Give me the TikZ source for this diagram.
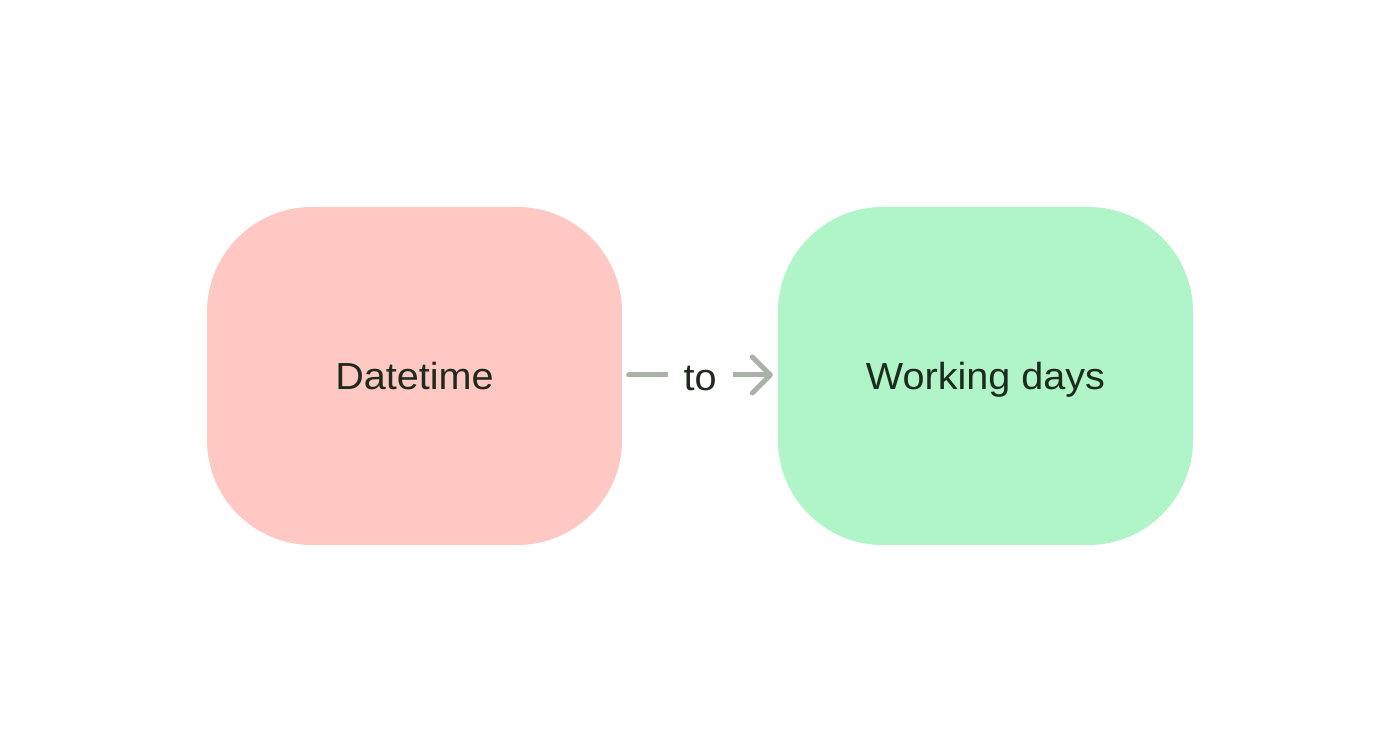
\documentclass[tikz,border=0pt]{standalone}
\usepackage{fontspec}
\setmainfont{Liberation Sans}[FakeStretch=1.05]
\usetikzlibrary{arrows.meta}
\definecolor{pinkbox}{HTML}{FFC8C3}
\definecolor{greenbox}{HTML}{AFF5C8}
\definecolor{inkc}{HTML}{1F2A1F}
\definecolor{arrowc}{HTML}{A9B1A9}
\begin{document}
\begin{tikzpicture}[x=1pt,y=1pt,
  card/.style={rectangle, rounded corners=105pt, minimum width=415pt, minimum height=338pt,
    inner sep=0pt, text=inkc, font=\fontsize{37.7}{40}\selectfont, text height=27pt, text depth=0pt},
  linkc/.style={draw=arrowc, line width=5pt, line cap=round}]
\useasboundingbox (0,0) rectangle (1400,752);
\fill[white] (0,0) rectangle (1400,752);
\node[card, fill=pinkbox] (dt) at (414.5,376) {Datetime};
\node[card, fill=greenbox] (wd) at (985.5,376) {Working days};
\draw[linkc, shorten <=6.5pt, shorten >=5pt, -{Straight Barb[length=18pt,width=36pt,line cap=round,line join=round]}]
  ([yshift=1pt]dt.east) -- ([yshift=1pt]wd.west)
  node[midway, fill=white, text=inkc, inner xsep=16pt, inner ysep=4pt,
       font=\fontsize{37.7}{40}\selectfont, text height=27pt, text depth=0pt, yshift=-2pt] (to) {to};
\end{tikzpicture}
\end{document}
